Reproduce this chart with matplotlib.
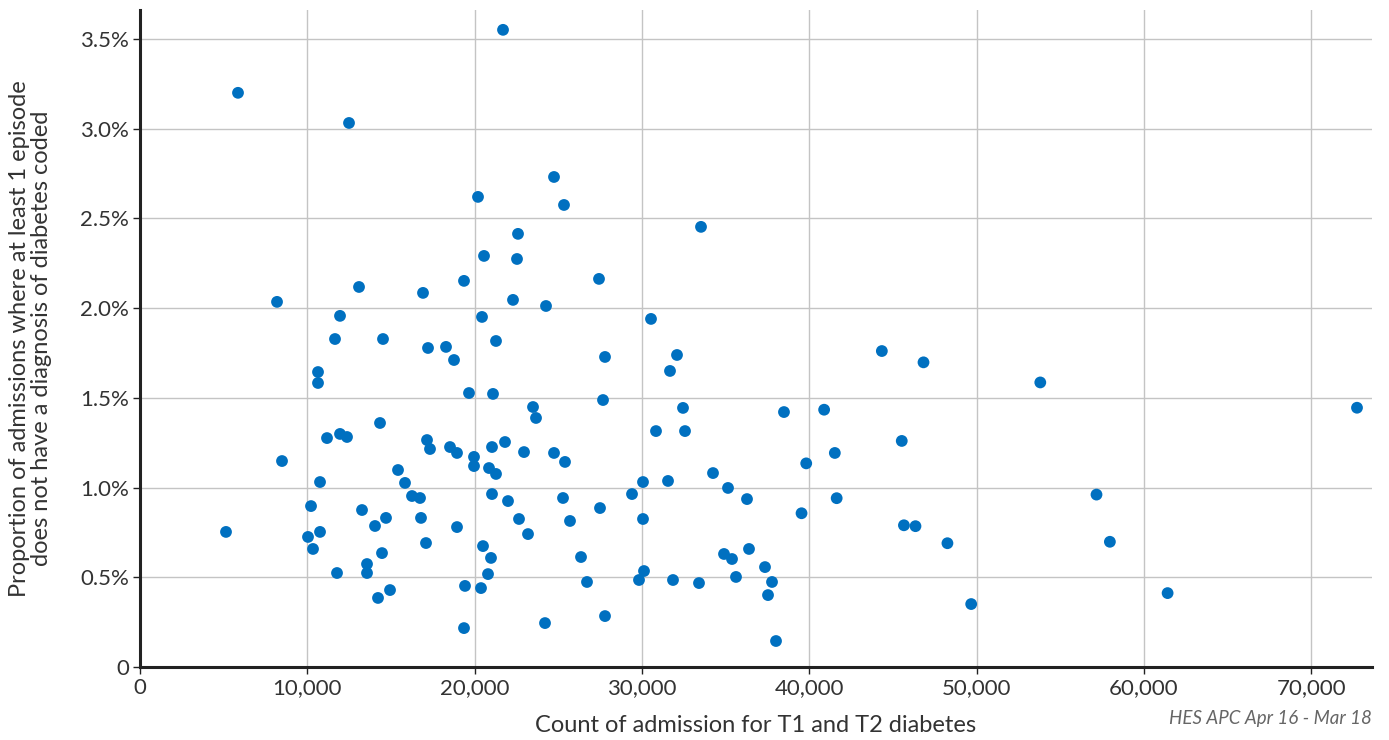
import matplotlib
matplotlib.use("Agg")
import matplotlib.pyplot as plt
from matplotlib.ticker import FuncFormatter, MultipleLocator

plt.rcParams['font.family'] = ['Lato', 'DejaVu Sans']

# admissions count (T1 + T2 diabetes) per provider
admissions = [
    5140, 5857, 8189, 8487, 12492, 10041, 10221, 10340, 10639, 10639,
    10759, 10759, 11177, 11655, 11954, 11954, 12372, 11775, 13090, 13269,
    13568, 13568, 14046, 14225, 14345, 14464, 14524, 14703, 14943, 15421,
    15839, 16257, 16736, 16795, 16915, 17094, 17154, 17214, 17333, 18290,
    18529, 18768, 18947, 18947, 19365, 19365, 19425, 19664, 19963, 19963,
    20202, 20381, 20441, 20501, 20561, 20800, 20860, 20979, 21039, 21039,
    21099, 21278, 21278, 21697, 21816, 21995, 22294, 22533, 22593, 22653,
    22952, 23191, 23490, 23669, 24267, 24207, 24745, 24745, 25342, 25283,
    25402, 25701, 26359, 26717, 27434, 27494, 27674, 27793, 27793, 29407,
    29825, 30064, 30064, 30124, 30542, 30841, 31559, 31678, 31857, 32096,
    32455, 32575, 33531, 33411, 34248, 34906, 35145, 35384, 35623, 36280,
    36400, 37356, 37536, 37775, 38014, 38490, 39540, 39820, 40890, 41530,
    41640, 44340, 45530, 45660, 46350, 46830, 48260, 49680, 53810, 57170,
    57970, 61420, 72740,
]

# % of admissions with no diabetes diagnosis coded in any episode
pct_uncoded = [
    0.753, 3.200, 2.035, 1.148, 3.032, 0.725, 0.897, 0.658, 1.644, 1.583,
    1.031, 0.753, 1.276, 1.828, 1.957, 1.299, 1.282, 0.524, 2.118, 0.875,
    0.574, 0.524, 0.786, 0.385, 1.360, 0.635, 1.828, 0.831, 0.429, 1.098,
    1.026, 0.953, 0.942, 0.831, 2.085, 0.691, 1.265, 1.778, 1.215, 1.784,
    1.226, 1.711, 1.193, 0.780, 2.152, 0.217, 0.452, 1.527, 1.171, 1.120,
    2.620, 0.440, 1.951, 0.674, 2.291, 0.518, 1.109, 0.608, 1.226, 0.964,
    1.522, 1.076, 1.817, 3.551, 1.254, 0.925, 2.046, 2.274, 2.414, 0.825,
    1.198, 0.741, 1.449, 1.388, 2.012, 0.245, 2.731, 1.193, 2.575, 0.942,
    1.143, 0.814, 0.613, 0.474, 2.163, 0.886, 1.488, 1.728, 0.284, 0.964,
    0.485, 1.031, 0.825, 0.535, 1.940, 1.315, 1.037, 1.650, 0.485, 1.739,
    1.444, 1.315, 2.453, 0.468, 1.081, 0.630, 0.998, 0.602, 0.502, 0.936,
    0.658, 0.557, 0.401, 0.474, 0.145, 1.421, 0.857, 1.135, 1.434, 1.193,
    0.941, 1.761, 1.260, 0.790, 0.785, 1.698, 0.690, 0.351, 1.586, 0.961,
    0.698, 0.412, 1.445,
]

x_label = "Count of admission for T1 and T2 diabetes"
y_label = "Proportion of admissions where at least 1 episode\ndoes not have a diagnosis of diabetes coded"
source = "HES APC Apr 16 - Mar 18"

fig = plt.figure(figsize=(13.89, 7.40), dpi=100)
ax = fig.add_axes([0.1008, 0.0986, 0.887, 0.888])

ax.scatter(admissions, pct_uncoded, s=72, color="#0070c0", edgecolors="none", zorder=3)

ax.set_xlim(0, 73640)
ax.set_ylim(0, 3.662)
ax.xaxis.set_major_locator(MultipleLocator(10000))
ax.yaxis.set_major_locator(MultipleLocator(0.5))
ax.xaxis.set_major_formatter(FuncFormatter(lambda v, p: f"{int(v):,}"))
ax.yaxis.set_major_formatter(FuncFormatter(lambda v, p: "0" if v == 0 else f"{v:.1f}%"))

ax.grid(True, color="#c4c4c4", linewidth=1.0, zorder=0)
ax.set_axisbelow(True)
for side in ("top", "right"):
    ax.spines[side].set_visible(False)
for side in ("left", "bottom"):
    ax.spines[side].set_linewidth(2.2)
    ax.spines[side].set_color("#222222")
    ax.spines[side].set_zorder(4)

ax.tick_params(axis="both", labelsize=16, colors="#222222", length=5, width=1, pad=3)
ax.tick_params(axis="both", labelcolor="#333333")

ax.set_xlabel(x_label, fontsize=17, color="#333333", labelpad=12)
ax.set_ylabel(y_label, fontsize=17, color="#333333", labelpad=20, linespacing=1.1)

fig.text(0.988, 0.022, source, ha="right", va="baseline", fontsize=13.5,
         style="italic", color="#666666")

fig.savefig("out.png", dpi=100)
